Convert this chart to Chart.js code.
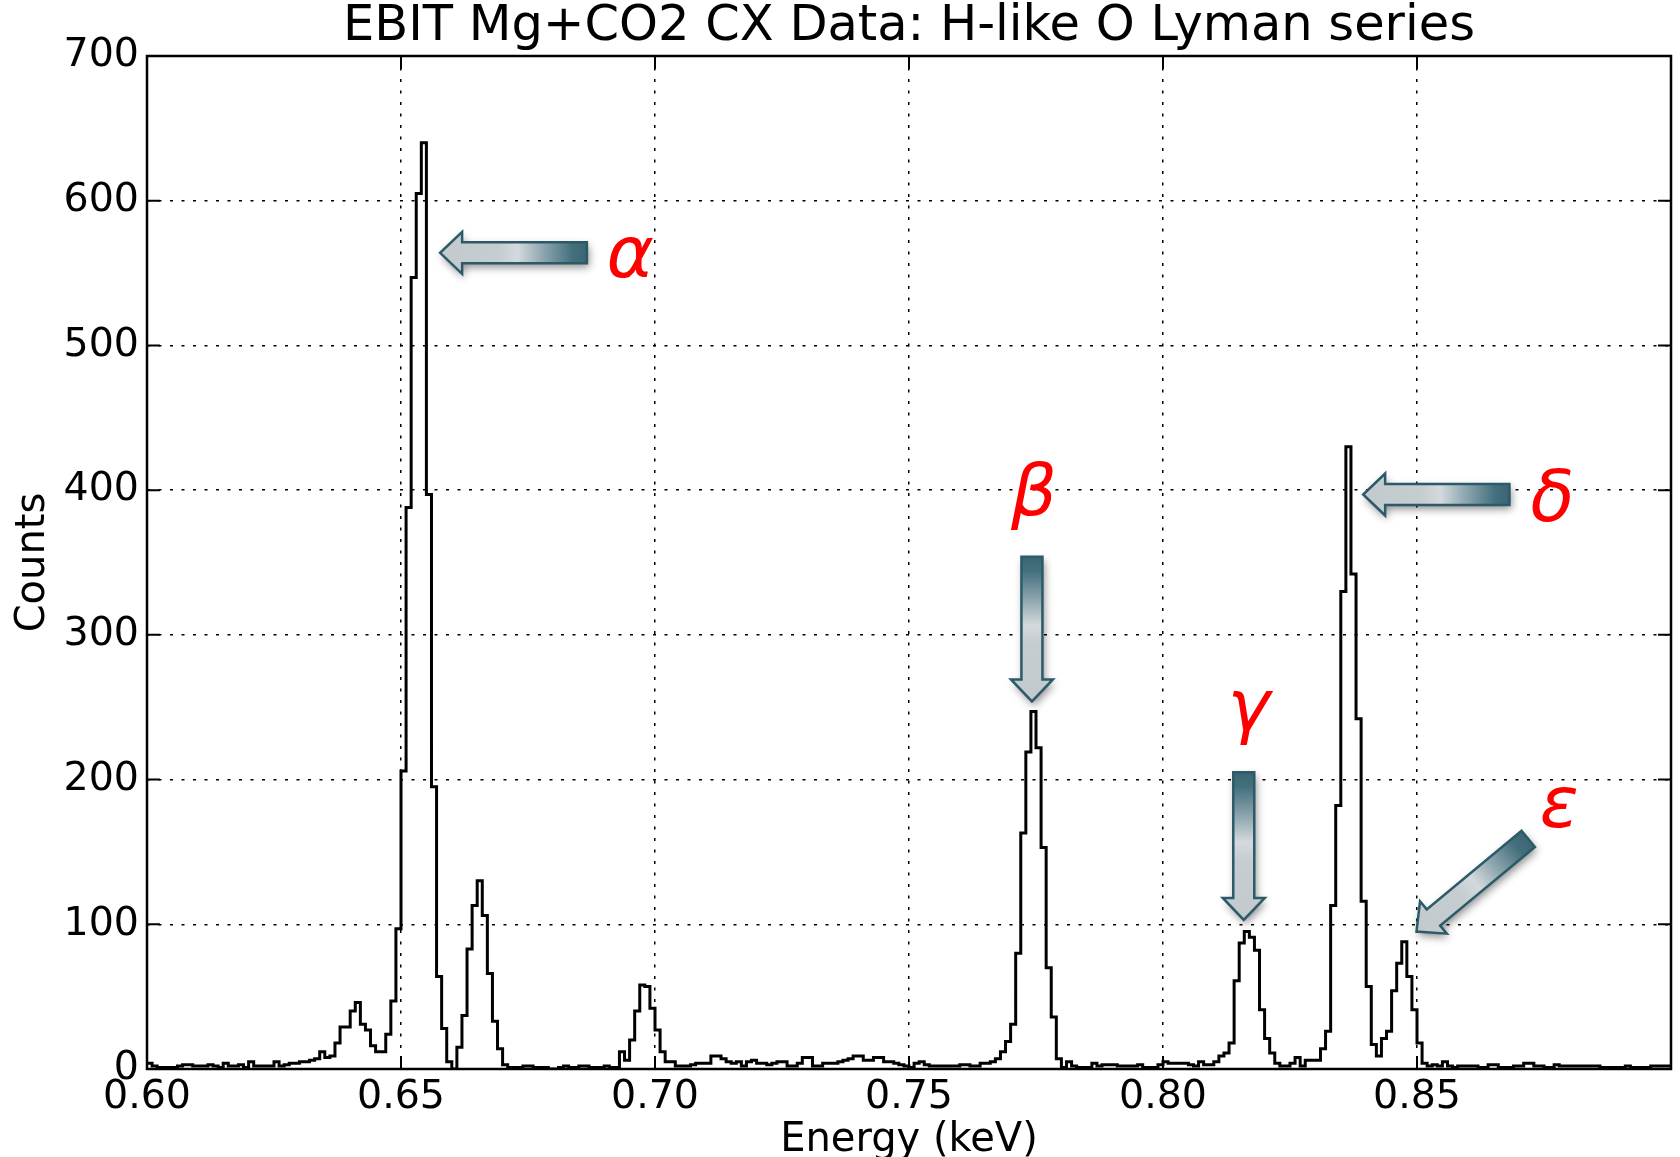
<!DOCTYPE html>
<html>
<head>
<meta charset="utf-8">
<title>EBIT Mg+CO2 CX Data: H-like O Lyman series</title>
<script src="https://cdn.jsdelivr.net/npm/chart.js@4.4.1/dist/chart.umd.min.js"></script>
<style>
    html, body { margin: 0; padding: 0; background: #fff; }
    canvas { display: block; }
</style>
</head>
<body>
<canvas id="lymanChart" width="1680" height="1157"></canvas>
<script>
// --- DATA ---
// histogram: 1 eV bins from 0.600 to 0.900 keV
const binStart = 0.600;
const binWidth = 0.001;

// counts per bin, one block per 0.05 keV
const counts600 = [
    4, 2, 1, 1, 1, 1, 2, 3, 3, 2,
    2, 2, 3, 2, 1, 4, 2, 2, 3, 1,
    5, 2, 2, 2, 2, 5, 2, 3, 4, 4,
    5, 5, 6, 7, 12, 8, 9, 18, 29, 29,
    40, 46, 31, 27, 16, 12, 12, 24, 47, 97
];
const counts650 = [
    206, 388, 547, 605, 640, 397, 195, 64, 28, 5,
    0, 15, 37, 83, 113, 130, 106, 66, 33, 14,
    3, 1, 1, 1, 2, 2, 1, 1, 1, 0,
    0, 1, 2, 1, 1, 2, 2, 1, 1, 1,
    2, 1, 1, 12, 6, 20, 40, 58, 57, 42
];
const counts700 = [
    27, 12, 5, 5, 2, 2, 2, 3, 4, 4,
    4, 9, 9, 7, 5, 4, 5, 2, 5, 6,
    4, 4, 3, 4, 5, 5, 2, 2, 4, 8,
    8, 2, 2, 4, 4, 4, 5, 6, 7, 9,
    9, 6, 6, 8, 8, 5, 5, 4, 3, 2
];
const counts750 = [
    1, 4, 5, 3, 2, 2, 2, 2, 2, 2,
    3, 3, 2, 2, 4, 4, 5, 7, 12, 19,
    31, 80, 163, 219, 247, 222, 153, 70, 36, 7,
    1, 5, 2, 1, 1, 1, 4, 2, 3, 3,
    3, 2, 2, 2, 2, 3, 1, 1, 1, 3
];
const counts800 = [
    5, 4, 4, 4, 4, 3, 2, 5, 3, 3,
    5, 9, 11, 18, 61, 87, 95, 91, 82, 41,
    21, 11, 4, 2, 2, 4, 8, 2, 6, 6,
    6, 14, 26, 113, 182, 330, 430, 342, 242, 116,
    57, 17, 9, 21, 26, 54, 73, 88, 64, 41
];
const counts850 = [
    18, 4, 2, 3, 2, 5, 2, 1, 2, 2,
    2, 2, 1, 1, 3, 3, 1, 1, 1, 2,
    2, 4, 4, 2, 2, 1, 1, 3, 2, 2,
    2, 2, 2, 2, 2, 2, 1, 1, 1, 1,
    1, 2, 1, 1, 1, 1, 2, 2, 2, 2
];

const xTickValues = [0.60, 0.65, 0.70, 0.75, 0.80, 0.85];
const xTickLabels = ['0.60', '0.65', '0.70', '0.75', '0.80', '0.85'];
const yTickValues = [0, 100, 200, 300, 400, 500, 600, 700];
const yTickLabels = ['0', '100', '200', '300', '400', '500', '600', '700'];

// Lyman line labels and their arrows (keV, counts)
const peakNames = ['α', 'β', 'γ', 'δ', 'ε'];
const peakLabelAt = [[0.6951, 547], [0.7746, 383], [0.8169, 234], [0.8767, 379], [0.8780, 167]];
const peakArrowTail = [[0.6866, 564], [0.7742, 354], [0.8159, 205], [0.8682, 397], [0.8719, 159]];
const peakArrowTip = [[0.6577, 564], [0.7742, 254], [0.8159, 103], [0.8394, 397], [0.8499, 95]];

// --- BUILD STEP POINTS ---
const counts = [].concat(counts600, counts650, counts700, counts750, counts800, counts850);
const stepPoints = counts.map((c, i) => ({ x: binStart + i * binWidth, y: c }));
// close the last bin at its right edge
stepPoints.push({ x: binStart + counts.length * binWidth, y: counts[counts.length - 1] });

const FONT = 'DejaVu Sans';

// block arrow with gradient, outline and soft shadow
function drawBlockArrow(ctx, x0, y0, x1, y1) {
    const shaft = 21, head = 42, headLen = 22;
    const len = Math.hypot(x1 - x0, y1 - y0);
    ctx.save();
    ctx.translate(x0, y0);
    ctx.rotate(Math.atan2(y1 - y0, x1 - x0));
    ctx.beginPath();
    ctx.moveTo(0, -shaft / 2);
    ctx.lineTo(len - headLen, -shaft / 2);
    ctx.lineTo(len - headLen, -head / 2);
    ctx.lineTo(len, 0);
    ctx.lineTo(len - headLen, head / 2);
    ctx.lineTo(len - headLen, shaft / 2);
    ctx.lineTo(0, shaft / 2);
    ctx.closePath();

    const g = ctx.createLinearGradient(0, 0, len, 0);
    g.addColorStop(0, '#3b6573');
    g.addColorStop(0.1, '#44707e');
    g.addColorStop(0.3, '#8ea6af');
    g.addColorStop(0.47, '#d3d9dc');
    g.addColorStop(0.6, '#c6cdd1');
    g.addColorStop(1, '#c3cace');
    ctx.fillStyle = g;
    ctx.shadowColor = 'rgba(0, 0, 0, 0.45)';
    ctx.shadowBlur = 8;
    ctx.shadowOffsetX = 2;
    ctx.shadowOffsetY = 4;
    ctx.fill();
    ctx.shadowColor = 'rgba(0, 0, 0, 0)';
    ctx.lineWidth = 2.5;
    ctx.lineJoin = 'miter';
    ctx.strokeStyle = '#2d5a69';
    ctx.stroke();
    ctx.restore();
}

const peakMarkers = {
    id: 'peakMarkers',
    afterDatasetsDraw(chart) {
        const { ctx, scales: { x, y } } = chart;
        peakNames.forEach((name, i) => {
            drawBlockArrow(ctx,
                x.getPixelForValue(peakArrowTail[i][0]), y.getPixelForValue(peakArrowTail[i][1]),
                x.getPixelForValue(peakArrowTip[i][0]), y.getPixelForValue(peakArrowTip[i][1]));
        });
        ctx.save();
        ctx.fillStyle = '#ff0000';
        ctx.font = 'italic 72px "' + FONT + '"';
        ctx.textAlign = 'center';
        ctx.textBaseline = 'alphabetic';
        peakNames.forEach((name, i) => {
            ctx.fillText(name, x.getPixelForValue(peakLabelAt[i][0]), y.getPixelForValue(peakLabelAt[i][1]));
        });
        ctx.restore();
    }
};

// matplotlib-like frame with inward ticks
const axesFrame = {
    id: 'axesFrame',
    afterDraw(chart) {
        const { ctx, chartArea: a, scales: { x, y } } = chart;
        const tl = 13;
        ctx.save();
        ctx.strokeStyle = '#000';
        ctx.lineWidth = 2;
        ctx.beginPath();
        xTickValues.forEach(v => {
            const px = x.getPixelForValue(v);
            ctx.moveTo(px, a.bottom); ctx.lineTo(px, a.bottom - tl);
            ctx.moveTo(px, a.top); ctx.lineTo(px, a.top + tl);
        });
        yTickValues.forEach(v => {
            const py = y.getPixelForValue(v);
            ctx.moveTo(a.left, py); ctx.lineTo(a.left + tl, py);
            ctx.moveTo(a.right, py); ctx.lineTo(a.right - tl, py);
        });
        ctx.stroke();
        ctx.lineWidth = 2.5;
        ctx.strokeRect(a.left, a.top, a.right - a.left, a.bottom - a.top);
        ctx.restore();
    }
};

const gridStyle = { color: '#000', lineWidth: 1.5, drawTicks: false, borderDash: [3, 8.5] };
const borderStyle = { display: false, dash: [3, 8.5] };

new Chart(document.getElementById('lymanChart'), {
    type: 'line',
    data: {
        datasets: [{
            label: 'Counts',
            data: stepPoints,
            stepped: 'before',
            borderColor: '#000',
            borderWidth: 3,
            pointRadius: 0,
            fill: false
        }]
    },
    options: {
        responsive: false,
        animation: false,
        layout: { padding: { left: 0, right: 9, top: 0, bottom: 0 } },
        plugins: {
            legend: { display: false },
            tooltip: { enabled: false },
            title: {
                display: true,
                fullSize: false,
                text: 'EBIT Mg+CO2 CX Data: H-like O Lyman series',
                color: '#000',
                font: { family: FONT, size: 49.5, weight: 'normal', lineHeight: 1 },
                padding: { top: 2, bottom: 4.5 }
            }
        },
        scales: {
            x: {
                type: 'linear',
                min: 0.6,
                max: 0.9,
                afterBuildTicks: s => { s.ticks = xTickValues.map(v => ({ value: v })); },
                afterFit: s => { s.height = 88; },
                ticks: {
                    color: '#000',
                    padding: 9,
                    maxRotation: 0,
                    autoSkip: false,
                    font: { family: FONT, size: 39.5, lineHeight: 1 },
                    callback: (v, i) => xTickLabels[i]
                },
                grid: gridStyle,
                border: borderStyle,
                title: {
                    display: true,
                    text: 'Energy (keV)',
                    color: '#000',
                    font: { family: FONT, size: 40, lineHeight: 1 },
                    padding: { top: 0, bottom: -4 }
                }
            },
            y: {
                type: 'linear',
                min: 0,
                max: 700,
                afterBuildTicks: s => { s.ticks = yTickValues.map(v => ({ value: v })); },
                afterFit: s => { s.width = 147; },
                ticks: {
                    color: '#000',
                    padding: 8,
                    font: { family: FONT, size: 39.5, lineHeight: 1 },
                    callback: (v, i) => yTickLabels[i]
                },
                grid: gridStyle,
                border: borderStyle,
                title: {
                    display: true,
                    text: 'Counts',
                    color: '#000',
                    font: { family: FONT, size: 40, lineHeight: 1 },
                    padding: { top: 14, bottom: 0 }
                }
            }
        }
    },
    plugins: [peakMarkers, axesFrame]
});
</script>
</body>
</html>
